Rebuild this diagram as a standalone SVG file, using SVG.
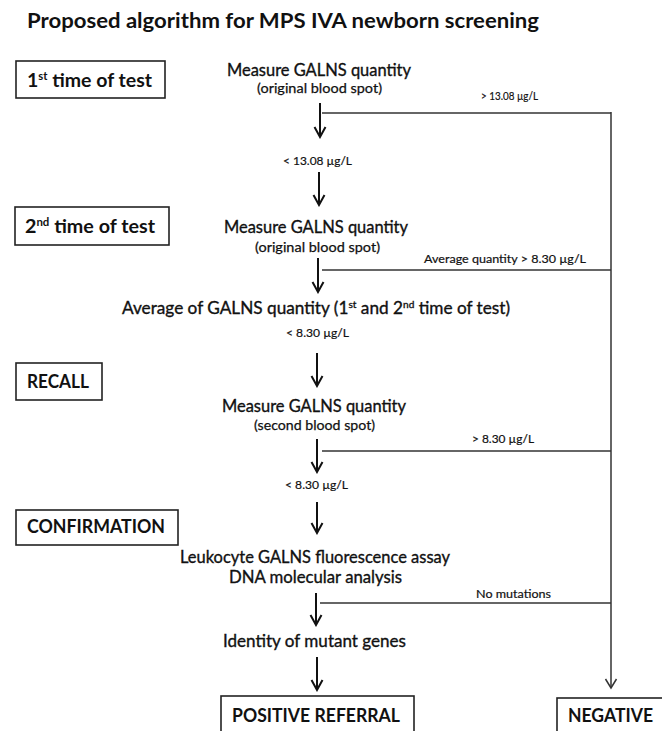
<svg xmlns="http://www.w3.org/2000/svg" width="662" height="731" viewBox="0 0 662 731">
<style>
text{font-family:Lato,"Open Sans","Liberation Sans",sans-serif;fill:#111}
.title{font-size:20.5px;font-weight:bold}
.lbl{font-size:19px;font-weight:bold}
.main{font-size:17px;stroke:#111;stroke-width:0.35}
.sub{font-size:14px;stroke:#111;stroke-width:0.25}
.cond{font-size:12px;stroke:#111;stroke-width:0.2}
.box{fill:#fff;stroke:#222;stroke-width:1.6}
.arr{stroke:#111;stroke-width:2;fill:none}
.br{stroke:#333;stroke-width:1.5;fill:none}
</style>
<defs>
<marker id="h" markerUnits="userSpaceOnUse" markerWidth="14" markerHeight="14" viewBox="-11 -7 12 14" refX="0" refY="0" orient="auto">
<path d="M-10,-5.5 L0,0 L-10,5.5" fill="none" stroke="#111" stroke-width="2"/>
</marker>
<marker id="hn" markerUnits="userSpaceOnUse" markerWidth="14" markerHeight="14" viewBox="-11 -7 12 14" refX="0" refY="0" orient="auto">
<path d="M-9,-5.5 L0,0 L-9,5.5" fill="none" stroke="#333" stroke-width="1.5"/>
</marker>
</defs>
<rect width="662" height="731" fill="#fff"/>
<text class="title" x="27" y="28" textLength="512" lengthAdjust="spacingAndGlyphs">Proposed algorithm for MPS IVA newborn screening</text>

<g id="connectors">
<line class="arr" x1="320" y1="103" x2="320" y2="137" marker-end="url(#h)"/>
<line class="arr" x1="319" y1="172" x2="319" y2="205" marker-end="url(#h)"/>
<line class="arr" x1="318" y1="258" x2="318" y2="292" marker-end="url(#h)"/>
<line class="arr" x1="317" y1="353" x2="317" y2="386" marker-end="url(#h)"/>
<line class="arr" x1="317" y1="439" x2="317" y2="472" marker-end="url(#h)"/>
<line class="arr" x1="317" y1="502" x2="317" y2="533" marker-end="url(#h)"/>
<line class="arr" x1="316" y1="593" x2="316" y2="625" marker-end="url(#h)"/>
<line class="arr" x1="317" y1="657" x2="317" y2="690" marker-end="url(#h)"/>
<line class="br" x1="322" y1="113" x2="611" y2="113"/>
<line class="br" x1="322" y1="270" x2="611" y2="270"/>
<line class="br" x1="322" y1="451" x2="611" y2="451"/>
<line class="br" x1="320" y1="603" x2="611" y2="603"/>
<line class="br" x1="611" y1="112" x2="611" y2="688" marker-end="url(#hn)"/>
<text class="cond" x="481" y="100" textLength="57" lengthAdjust="spacingAndGlyphs">&gt; 13.08 µg/L</text>
<text class="cond" x="283" y="165" textLength="69" lengthAdjust="spacingAndGlyphs">&lt; 13.08 µg/L</text>
<text class="cond" x="424" y="263" textLength="162" lengthAdjust="spacingAndGlyphs">Average quantity &gt; 8.30 µg/L</text>
<text class="cond" x="286" y="337" textLength="63" lengthAdjust="spacingAndGlyphs">&lt; 8.30 µg/L</text>
<text class="cond" x="472" y="443" textLength="62" lengthAdjust="spacingAndGlyphs">&gt; 8.30 µg/L</text>
<text class="cond" x="285" y="489" textLength="63" lengthAdjust="spacingAndGlyphs">&lt; 8.30 µg/L</text>
<text class="cond" x="476" y="598" textLength="75" lengthAdjust="spacingAndGlyphs">No mutations</text>
</g>

<g id="stage1">
<rect class="box" x="16" y="61" width="149" height="37"/>
<text class="lbl" x="27" y="87" textLength="125" lengthAdjust="spacingAndGlyphs">1<tspan font-size="11" dy="-7">st</tspan><tspan dy="7"> time of test</tspan></text>
</g>
<g id="measure1">
<text class="main" x="227" y="76" textLength="184" lengthAdjust="spacingAndGlyphs">Measure GALNS quantity</text>
<text class="sub" x="257" y="93" textLength="125" lengthAdjust="spacingAndGlyphs">(original blood spot)</text>
</g>

<g id="stage2">
<rect class="box" x="15" y="207" width="154" height="38"/>
<text class="lbl" x="25" y="233" textLength="130" lengthAdjust="spacingAndGlyphs">2<tspan font-size="11" dy="-7">nd</tspan><tspan dy="7"> time of test</tspan></text>
</g>
<g id="measure2">
<text class="main" x="224" y="233" textLength="184" lengthAdjust="spacingAndGlyphs">Measure GALNS quantity</text>
<text class="sub" x="255" y="252" textLength="125" lengthAdjust="spacingAndGlyphs">(original blood spot)</text>
</g>
<g id="average">
<text class="main" x="122" y="314" textLength="388" lengthAdjust="spacingAndGlyphs">Average of GALNS quantity (1<tspan font-size="10" dy="-6">st</tspan><tspan dy="6"> and 2</tspan><tspan font-size="10" dy="-6">nd</tspan><tspan dy="6">  time of test)</tspan></text>
</g>

<g id="recall">
<rect class="box" x="16" y="363" width="86" height="37"/>
<text class="lbl" x="27" y="388" textLength="62" lengthAdjust="spacingAndGlyphs">RECALL</text>
</g>
<g id="measure3">
<text class="main" x="222" y="412" textLength="184" lengthAdjust="spacingAndGlyphs">Measure GALNS quantity</text>
<text class="sub" x="254" y="430" textLength="121" lengthAdjust="spacingAndGlyphs">(second blood spot)</text>
</g>

<g id="confirmation">
<rect class="box" x="16" y="510" width="162" height="35"/>
<text class="lbl" x="27" y="533" textLength="138" lengthAdjust="spacingAndGlyphs">CONFIRMATION</text>
</g>
<g id="assay">
<text class="main" x="180" y="563" textLength="270" lengthAdjust="spacingAndGlyphs">Leukocyte GALNS fluorescence assay</text>
<text class="main" x="229" y="583" textLength="173" lengthAdjust="spacingAndGlyphs">DNA molecular  analysis</text>
</g>
<g id="identity">
<text class="main" x="223" y="647" textLength="183" lengthAdjust="spacingAndGlyphs">Identity of mutant genes</text>
</g>

<g id="positive">
<rect class="box" x="221" y="696" width="193" height="45"/>
<text class="lbl" x="232" y="722" textLength="168" lengthAdjust="spacingAndGlyphs">POSITIVE REFERRAL</text>
</g>
<g id="negative">
<rect class="box" x="557" y="698" width="115" height="45"/>
<text class="lbl" x="568" y="722" textLength="85" lengthAdjust="spacingAndGlyphs">NEGATIVE</text>
</g>
</svg>
